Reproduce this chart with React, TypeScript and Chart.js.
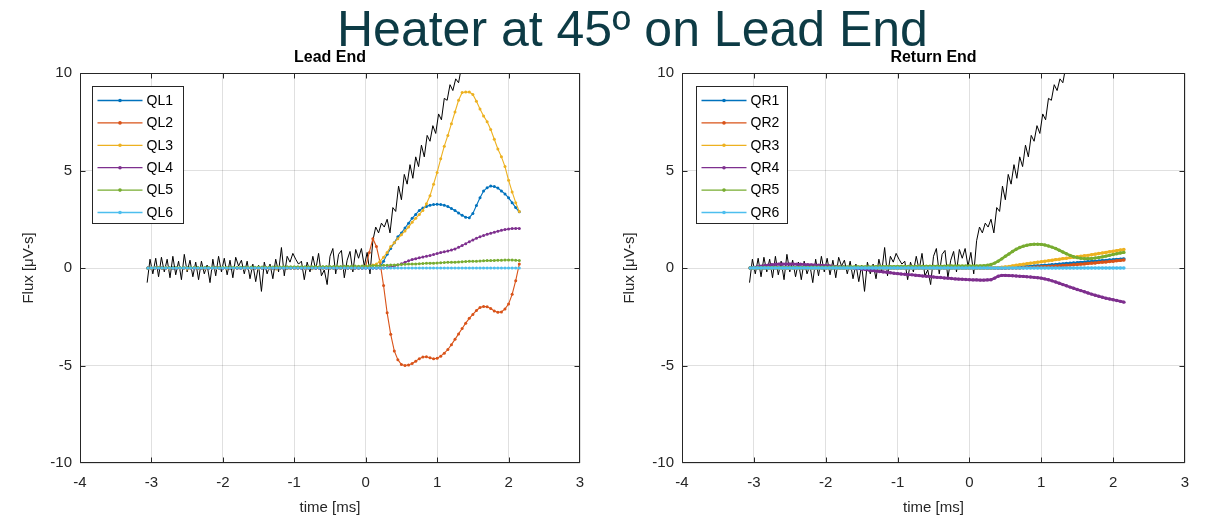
import React, { useEffect, useRef } from "react";
import { Chart, registerables } from "chart.js";

Chart.register(...registerables);

// ---------- data ----------
const TIME = [
  -3.05, -3.0, -2.95, -2.9, -2.85, -2.8, -2.75, -2.7, -2.65, -2.6,
  -2.55, -2.5, -2.45, -2.4, -2.35, -2.3, -2.25, -2.2, -2.15, -2.1,
  -2.05, -2.0, -1.95, -1.9, -1.85, -1.8, -1.75, -1.7, -1.65, -1.6,
  -1.55, -1.5, -1.45, -1.4, -1.35, -1.3, -1.25, -1.2, -1.15, -1.1,
  -1.05, -1.0, -0.95, -0.9, -0.85, -0.8, -0.75, -0.7, -0.65, -0.6,
  -0.55, -0.5, -0.45, -0.4, -0.35, -0.3, -0.25, -0.2, -0.15, -0.1,
  -0.05, 0.0, 0.05, 0.1, 0.15, 0.2, 0.25, 0.3, 0.35, 0.4,
  0.45, 0.5, 0.55, 0.6, 0.65, 0.7, 0.75, 0.8, 0.85, 0.9,
  0.95, 1.0, 1.05, 1.1, 1.15, 1.2, 1.25, 1.3, 1.35, 1.4,
  1.45, 1.5, 1.55, 1.6, 1.65, 1.7, 1.75, 1.8, 1.85, 1.9,
  1.95, 2.0, 2.05, 2.1, 2.15,
];

const HEATER_TIME = [
  -3.06, -3.02, -2.98, -2.94, -2.9, -2.86, -2.82, -2.78, -2.74, -2.7,
  -2.66, -2.62, -2.58, -2.54, -2.5, -2.46, -2.42, -2.38, -2.34, -2.3,
  -2.26, -2.22, -2.18, -2.14, -2.1, -2.06, -2.02, -1.98, -1.94, -1.9,
  -1.86, -1.82, -1.78, -1.74, -1.7, -1.66, -1.62, -1.58, -1.54, -1.5,
  -1.46, -1.42, -1.38, -1.34, -1.3, -1.26, -1.22, -1.18, -1.14, -1.1,
  -1.06, -1.02, -0.98, -0.94, -0.9, -0.86, -0.82, -0.78, -0.74, -0.7,
  -0.66, -0.62, -0.58, -0.54, -0.5, -0.46, -0.42, -0.38, -0.34, -0.3,
  -0.26, -0.22, -0.18, -0.14, -0.1, -0.06, -0.02, 0.02, 0.06, 0.1,
  0.14, 0.18, 0.22, 0.26, 0.3, 0.34, 0.38, 0.42, 0.46, 0.5,
  0.54, 0.58, 0.62, 0.66, 0.7, 0.74, 0.78, 0.82, 0.86, 0.9,
  0.94, 0.98, 1.02, 1.06, 1.1, 1.14, 1.18, 1.22, 1.26, 1.3,
  1.34, 1.38, 1.42,
];

const HEATER = [
  -0.75, 0.45, -0.3, 0.5, -0.45, 0.55, -0.2, 0.45, -0.5, 0.6,
  -0.35, 0.35, -0.6, 0.7, -0.2, 0.4, -0.45, 0.3, -0.6, 0.35,
  -0.3, 0.15, -0.75, 0.45, -0.4, 0.6, -0.2, 0.5, -0.35, 0.4,
  -0.5, 0.55, 0.1, 0.4, -0.3, 0.35, -0.55, 0.2, -0.7, 0.15,
  -1.2, 0.3, -0.3, 0.2, -0.55, 0.45, -0.2, 1.05, -0.4, 0.6,
  0.3, 0.75, 0.45, 0.2, 0.35, -0.6, 0.3, -0.2, 0.6, -0.1,
  0.75, -0.4, -0.1, -0.85, 0.6, 1.0, -0.3, 0.7, 0.9, -0.5,
  0.4, 0.85, -0.2, 0.95, 0.5, 1.0, 0.1, 0.8, -0.3, 1.4,
  2.1, 1.8, 2.3, 2.1, 2.5, 1.8, 3.1, 2.9, 4.2, 3.5,
  4.8, 4.3, 5.3, 4.6, 5.7, 5.2, 6.3, 5.7, 6.8, 6.5,
  7.3, 6.9, 7.9, 7.6, 8.7, 8.6, 9.4, 9.1, 9.7, 9.5,
  10.3, 10.8, 11.5,
];

const QL1 = [
  0, 0, 0, 0, 0, 0, 0, 0, 0, 0,
  0, 0, 0, 0, 0, 0, 0, 0, 0, 0,
  0, 0, 0, 0, 0, 0, 0, 0, 0, 0,
  0, 0, 0, 0, 0, 0, 0, 0, 0, 0,
  0, 0, 0, 0, 0, 0, 0, 0, 0, 0,
  0, 0, 0, 0, 0, 0, 0, 0, 0, 0,
  0, 0, 0, 0, 0, 0.05, 0.35, 0.7, 1.0, 1.3,
  1.6, 1.8, 2.05, 2.3, 2.55, 2.75, 2.95, 3.08, 3.16, 3.22,
  3.26, 3.27, 3.26, 3.22, 3.15, 3.05, 2.95, 2.82, 2.7, 2.6,
  2.58, 2.8, 3.2, 3.6, 3.95, 4.12, 4.2, 4.18, 4.1, 3.95,
  3.8, 3.6, 3.35, 3.1, 2.88,
];
const QL2 = [
  0, 0, 0, 0, 0, 0, 0, 0, 0, 0,
  0, 0, 0, 0, 0, 0, 0, 0, 0, 0,
  0, 0, 0, 0, 0, 0, 0, 0, 0, 0,
  0, 0, 0, 0, 0, 0, 0, 0, 0, 0,
  0, 0, 0, 0, 0, 0, 0, 0, 0, 0,
  0, 0, 0, 0, 0, 0, 0, 0, 0, 0,
  0, 0.1, 0.8, 1.5, 1.1, 0.3, -0.9, -2.3, -3.4, -4.25,
  -4.7, -4.95, -5.0, -4.97, -4.9, -4.78, -4.65, -4.56, -4.55, -4.6,
  -4.66, -4.63, -4.52, -4.37, -4.18, -3.93, -3.66, -3.38, -3.1, -2.83,
  -2.58, -2.38, -2.18, -2.03, -1.97, -1.99, -2.08, -2.2, -2.27, -2.25,
  -2.1, -1.85, -1.35, -0.65, 0.2,
];
const QL3 = [
  0, -0.02, 0, 0.02, -0.03, 0, -0.04, 0, 0.02, -0.03,
  0, -0.05, 0, 0.02, -0.02, 0, -0.04, 0.01, 0, -0.03,
  0, 0.02, -0.04, 0, -0.02, 0, 0.02, -0.03, 0, -0.02,
  0, -0.04, 0, 0.02, -0.02, 0, -0.05, 0, 0.01, -0.02,
  0, -0.03, 0, 0.02, -0.02, 0, -0.04, 0, 0.02, -0.02,
  0, -0.03, 0, 0.01, -0.02, 0, 0.02, -0.02, 0, 0.01,
  0.02, 0.05, 0.1, 0.15, 0.2, 0.35, 0.55, 0.8, 1.1, 1.3,
  1.5, 1.7, 1.9, 2.1, 2.35, 2.55, 2.75, 2.95, 3.3, 3.7,
  4.3, 4.9, 5.6, 6.25, 6.8, 7.4, 8.0, 8.6, 9.0, 9.02,
  9.02, 8.9, 8.55, 8.15, 7.8, 7.5, 7.1, 6.6, 6.1, 5.7,
  5.2, 4.5, 3.9, 3.35, 2.9,
];
const QL4 = [
  0, 0, 0, 0, 0, 0, 0, 0, 0, 0,
  0, 0, 0, 0, 0, 0, 0, 0, 0, 0,
  0, 0, 0, 0, 0, 0, 0, 0, 0, 0,
  0, 0, 0, 0, 0, 0, 0, 0, 0, 0,
  0, 0, 0, 0, 0, 0, 0, 0, 0, 0,
  0, 0, 0, 0, 0, 0, 0, 0, 0, 0,
  0, 0, 0, 0, 0, 0, 0, 0.03, 0.06, 0.1,
  0.15, 0.22, 0.3, 0.37, 0.43, 0.48, 0.52, 0.56, 0.6, 0.64,
  0.69, 0.74, 0.79, 0.83, 0.87, 0.92, 0.98, 1.06, 1.15, 1.25,
  1.35, 1.44, 1.52, 1.6, 1.67, 1.73, 1.78, 1.83, 1.88, 1.93,
  1.97, 2.0, 2.02, 2.03, 2.03,
];
const QL5 = [
  0, 0.01, 0.01, 0.02, 0.01, 0.02, 0.02, 0.01, 0.02, 0.02,
  0.02, 0.02, 0.03, 0.02, 0.03, 0.02, 0.03, 0.03, 0.02, 0.03,
  0.03, 0.03, 0.04, 0.03, 0.04, 0.03, 0.04, 0.04, 0.04, 0.05,
  0.04, 0.05, 0.05, 0.04, 0.05, 0.05, 0.06, 0.05, 0.06, 0.06,
  0.06, 0.06, 0.07, 0.06, 0.07, 0.07, 0.07, 0.08, 0.07, 0.08,
  0.08, 0.08, 0.08, 0.09, 0.08, 0.09, 0.09, 0.09, 0.1, 0.09,
  0.1, 0.1, 0.11, 0.12, 0.12, 0.13, 0.14, 0.14, 0.15, 0.16,
  0.17, 0.18, 0.19, 0.2, 0.2, 0.21, 0.22, 0.23, 0.24, 0.25,
  0.25, 0.26, 0.27, 0.28, 0.29, 0.29, 0.3, 0.31, 0.32, 0.33,
  0.34, 0.35, 0.35, 0.36, 0.37, 0.38, 0.38, 0.39, 0.4, 0.4,
  0.41, 0.41, 0.41, 0.4, 0.38,
];
const QL6 = [
  0, 0, 0, 0, 0, 0, 0, 0, 0, 0,
  0, 0, 0, 0, 0, 0, 0, 0, 0, 0,
  0, 0, 0, 0, 0, 0, 0, 0, 0, 0,
  0, 0, 0, 0, 0, 0, 0, 0, 0, 0,
  0, 0, 0, 0, 0, 0, 0, 0, 0, 0,
  0, 0, 0, 0, 0, 0, 0, 0, 0, 0,
  0, 0, 0, 0, 0, 0, 0, 0, 0, 0,
  0, 0, 0, 0, 0, 0, 0, 0, 0, 0,
  0, 0, 0, 0, 0, 0, 0, 0, 0, 0,
  0, 0, 0, 0, 0, 0, 0, 0, 0, 0,
  0, 0, 0, 0, 0,
];

const QR1 = [
  0, 0, 0, 0, 0, 0, 0, 0, 0, 0,
  0, 0, 0, 0, 0, 0, 0, 0, 0, 0,
  0, 0, 0, 0, 0, 0, 0, 0, 0, 0,
  0, 0, 0, 0, 0, 0, 0, 0, 0, 0,
  0, 0, 0, 0, 0, 0, 0, 0, 0, 0,
  0, 0, 0, 0, 0, 0, 0, 0, 0, 0,
  0, 0, 0, 0, 0, 0, 0, 0, 0, 0,
  0, 0, 0.01, 0.02, 0.03, 0.05, 0.06, 0.07, 0.08, 0.1,
  0.11, 0.12, 0.14, 0.15, 0.17, 0.18, 0.2, 0.21, 0.23, 0.24,
  0.26, 0.27, 0.29, 0.3, 0.32, 0.33, 0.35, 0.36, 0.38, 0.39,
  0.41, 0.42, 0.44, 0.45, 0.47,
];
const QR2 = [
  0, 0, 0, 0, 0, 0, 0, 0, 0, 0,
  0, 0, 0, 0, 0, 0, 0, 0, 0, 0,
  0, 0, 0, 0, 0, 0, 0, 0, 0, 0,
  0, 0, 0, 0, 0, 0, 0, 0, 0, 0,
  0, 0, 0, 0, 0, 0, 0, 0, 0, 0,
  0, 0, 0, 0, 0, 0, 0, 0, 0, 0,
  0, 0, 0, 0, 0, 0, 0, 0, 0, 0,
  0, 0, 0, 0, 0, 0, 0.01, 0.02, 0.03, 0.04,
  0.05, 0.06, 0.07, 0.08, 0.09, 0.1, 0.11, 0.13, 0.14, 0.15,
  0.17, 0.18, 0.2, 0.21, 0.23, 0.25, 0.26, 0.28, 0.3, 0.31,
  0.33, 0.35, 0.37, 0.39, 0.41,
];
const QR3 = [
  0, 0, 0, 0, 0, 0, 0, 0, 0, 0,
  0, 0, 0, 0, 0, 0, 0, 0, 0, 0,
  0, 0, 0, 0, 0, 0, 0, 0, 0, 0,
  0, 0, 0, 0, 0, 0, 0, 0, 0, 0,
  0, 0, 0, 0, 0, 0, 0, 0, 0, 0,
  0, 0, 0, 0, 0, 0, 0, 0, 0, 0,
  0, 0, 0, 0, 0, 0, 0, 0, 0.01, 0.02,
  0.04, 0.06, 0.08, 0.11, 0.14, 0.17, 0.19, 0.22, 0.25, 0.27,
  0.3, 0.32, 0.35, 0.37, 0.4, 0.43, 0.45, 0.48, 0.5, 0.53,
  0.55, 0.58, 0.6, 0.63, 0.65, 0.68, 0.71, 0.74, 0.77, 0.8,
  0.83, 0.86, 0.89, 0.92, 0.95,
];
const QR4 = [
  0, 0.03, 0.06, 0.09, 0.12, 0.15, 0.17, 0.19, 0.2, 0.2,
  0.2, 0.2, 0.2, 0.19, 0.19, 0.18, 0.17, 0.16, 0.15, 0.14,
  0.13, 0.12, 0.11, 0.09, 0.08, 0.06, 0.05, 0.03, 0.02, 0.0,
  -0.03, -0.05, -0.08, -0.1, -0.13, -0.15, -0.18, -0.2, -0.22, -0.24,
  -0.27, -0.29, -0.31, -0.32, -0.34, -0.35, -0.37, -0.39, -0.41, -0.42,
  -0.44, -0.46, -0.48, -0.49, -0.51, -0.52, -0.54, -0.56, -0.57, -0.58,
  -0.59, -0.6, -0.61, -0.61, -0.62, -0.62, -0.61, -0.6, -0.52, -0.42,
  -0.38, -0.38, -0.39, -0.4, -0.41, -0.42, -0.43, -0.45, -0.46, -0.48,
  -0.5, -0.52, -0.56, -0.6, -0.66, -0.72, -0.78, -0.85, -0.91, -0.98,
  -1.04, -1.1, -1.16, -1.22, -1.28, -1.34, -1.4, -1.45, -1.5, -1.55,
  -1.59, -1.63, -1.67, -1.71, -1.75,
];
const QR5 = [
  0, 0, 0.01, 0.01, 0.01, 0.01, 0.02, 0.02, 0.02, 0.02,
  0.02, 0.03, 0.03, 0.03, 0.03, 0.03, 0.03, 0.04, 0.04, 0.04,
  0.04, 0.04, 0.04, 0.05, 0.05, 0.05, 0.05, 0.05, 0.05, 0.06,
  0.06, 0.06, 0.06, 0.06, 0.06, 0.07, 0.07, 0.07, 0.07, 0.07,
  0.07, 0.08, 0.08, 0.08, 0.08, 0.08, 0.08, 0.08, 0.09, 0.09,
  0.09, 0.09, 0.09, 0.09, 0.09, 0.1, 0.1, 0.1, 0.1, 0.1,
  0.1, 0.1, 0.1, 0.1, 0.11, 0.12, 0.14, 0.18, 0.25, 0.35,
  0.47, 0.6, 0.72, 0.85, 0.96, 1.05, 1.12, 1.17, 1.2, 1.22,
  1.22, 1.21, 1.18, 1.13, 1.07, 1.0, 0.91, 0.82, 0.73, 0.65,
  0.58, 0.53, 0.5, 0.48, 0.48, 0.49, 0.51, 0.54, 0.57, 0.61,
  0.65, 0.69, 0.73, 0.77, 0.8,
];
const QR6 = QL6.slice();

const LEAD_NAMES = ["QL1", "QL2", "QL3", "QL4", "QL5", "QL6"];
const RETURN_NAMES = ["QR1", "QR2", "QR3", "QR4", "QR5", "QR6"];
const LEAD_SERIES = [QL1, QL2, QL3, QL4, QL5, QL6];
const RETURN_SERIES = [QR1, QR2, QR3, QR4, QR5, QR6];
const COLORS = ["#0072BD", "#D95319", "#EDB120", "#7E2F8E", "#77AC30", "#4DBEEE"];
const X_TICKS = [-4, -3, -2, -1, 0, 1, 2, 3];
const Y_TICKS = [-10, -5, 0, 5, 10];

const FONT = "'Liberation Sans', Arial, Helvetica, sans-serif";
const AXIS_COLOR = "#262626";

// ---------- plugins ----------
const matlabAxes = {
  id: "matlabAxes",
  afterDatasetsDraw(chart: any) {
    const { ctx, chartArea: a, scales } = chart;
    const L = Math.round(a.left) + 0.5;
    const R = Math.round(a.right) - 0.5;
    const T = Math.round(a.top) + 0.5;
    const B = Math.round(a.bottom) - 0.5;
    const clampX = (v: number) => Math.min(R, Math.max(L, v));
    const clampY = (v: number) => Math.min(B, Math.max(T, v));
    ctx.save();
    ctx.strokeStyle = AXIS_COLOR;
    ctx.lineWidth = 1;
    ctx.beginPath();
    ctx.rect(L, T, R - L, B - T);
    const tl = 5;
    X_TICKS.forEach((v) => {
      const px = clampX(Math.round(scales.x.getPixelForValue(v)) + 0.5);
      ctx.moveTo(px, B);
      ctx.lineTo(px, B - tl);
      ctx.moveTo(px, T);
      ctx.lineTo(px, T + tl);
    });
    Y_TICKS.forEach((v) => {
      const py = clampY(Math.round(scales.y.getPixelForValue(v)) + 0.5);
      ctx.moveTo(L, py);
      ctx.lineTo(L + tl, py);
      ctx.moveTo(R, py);
      ctx.lineTo(R - tl, py);
    });
    ctx.stroke();
    ctx.restore();
  },
  afterDraw(chart: any, _args: any, opts: any) {
    const { ctx, chartArea: a } = chart;
    const items = chart.data.datasets.filter((d: any) => d.inLegend);
    const x0 = Math.round(a.left + opts.offsetX) + 0.5;
    const y0 = Math.round(a.top + 13) + 0.5;
    const w = 91;
    const h = 137;
    ctx.save();
    ctx.fillStyle = "#ffffff";
    ctx.fillRect(x0, y0, w, h);
    ctx.strokeStyle = AXIS_COLOR;
    ctx.lineWidth = 1;
    ctx.strokeRect(x0, y0, w, h);
    items.forEach((d: any, i: number) => {
      const y = y0 + 14 + i * 22.4;
      ctx.strokeStyle = d.borderColor;
      ctx.lineWidth = 1.3;
      ctx.beginPath();
      ctx.moveTo(x0 + 5, y);
      ctx.lineTo(x0 + 50, y);
      ctx.stroke();
      ctx.fillStyle = d.borderColor;
      ctx.beginPath();
      ctx.arc(x0 + 27.5, y, 1.8, 0, Math.PI * 2);
      ctx.fill();
      ctx.fillStyle = "#000000";
      ctx.font = `14px ${FONT}`;
      ctx.textBaseline = "middle";
      ctx.textAlign = "left";
      ctx.fillText(d.label, x0 + 54, y + 0.5);
    });
    ctx.restore();
  },
};

function buildConfig(
  title: string,
  names: string[],
  series: number[][],
  lineWidth: number,
  pointRadius: number,
  yAxisWidth: number,
  yTitlePad: number,
  legendOffsetX: number
): any {
  const datasets: any[] = series.map((vals, i) => ({
    label: names[i],
    inLegend: true,
    data: TIME.map((t, k) => ({ x: t, y: vals[k] })),
    borderColor: COLORS[i],
    backgroundColor: COLORS[i],
    borderWidth: lineWidth,
    pointRadius: pointRadius,
    pointBorderWidth: 0,
    pointBackgroundColor: COLORS[i],
    tension: 0,
    order: 10 - i,
  }));
  datasets.push({
    label: "heater",
    inLegend: false,
    data: HEATER_TIME.map((t, k) => ({ x: t, y: HEATER[k] })),
    borderColor: "#000000",
    borderWidth: 1,
    pointRadius: 0,
    tension: 0,
    order: 100,
  });

  return {
    type: "line",
    data: { datasets },
    plugins: [matlabAxes],
    options: {
      animation: false,
      responsive: false,
      devicePixelRatio: 1,
      events: [],
      layout: { padding: { left: 0, right: 20, top: 0, bottom: 0 } },
      plugins: {
        legend: { display: false },
        tooltip: { enabled: false },
        title: {
          display: true,
          text: title,
          color: "#000000",
          fullSize: false,
          font: { family: FONT, size: 16, weight: "bold" },
          padding: { top: 47.5, bottom: 6.3 },
        },
        matlabAxes: { offsetX: legendOffsetX },
      },
      scales: {
        x: {
          type: "linear",
          min: -4,
          max: 3,
          afterBuildTicks: (s: any) => {
            s.ticks = X_TICKS.map((v) => ({ value: v }));
          },
          afterFit: (s: any) => {
            s.height = 57;
          },
          ticks: {
            color: AXIS_COLOR,
            font: { family: FONT, size: 15 },
            padding: 11,
            maxRotation: 0,
            autoSkip: false,
          },
          grid: { color: "rgba(0,0,0,0.12)", drawTicks: false, lineWidth: 1 },
          border: { display: false },
          title: {
            display: true,
            text: "time [ms]",
            color: AXIS_COLOR,
            font: { family: FONT, size: 15 },
            padding: { top: 0, bottom: 3 },
          },
        },
        y: {
          type: "linear",
          min: -10,
          max: 10,
          afterBuildTicks: (s: any) => {
            s.ticks = Y_TICKS.map((v) => ({ value: v }));
          },
          afterFit: (s: any) => {
            s.width = yAxisWidth;
          },
          ticks: {
            color: AXIS_COLOR,
            font: { family: FONT, size: 15 },
            padding: 8,
            autoSkip: false,
          },
          grid: { color: "rgba(0,0,0,0.12)", drawTicks: false, lineWidth: 1 },
          border: { display: false },
          title: {
            display: true,
            text: "Flux [μV-s]",
            color: AXIS_COLOR,
            font: { family: FONT, size: 15 },
            padding: { top: yTitlePad, bottom: 0 },
          },
        },
      },
    },
  };
}

function Panel(props: {
  left: number;
  title: string;
  names: string[];
  series: number[][];
  lineWidth: number;
  pointRadius: number;
  yAxisWidth: number;
  yTitlePad: number;
  legendOffsetX: number;
}) {
  const ref = useRef<HTMLCanvasElement | null>(null);
  useEffect(() => {
    if (!ref.current) return;
    const chart = new Chart(
      ref.current,
      buildConfig(
        props.title,
        props.names,
        props.series,
        props.lineWidth,
        props.pointRadius,
        props.yAxisWidth,
        props.yTitlePad,
        props.legendOffsetX
      )
    );
    return () => chart.destroy();
  }, []);
  return (
    <canvas
      ref={ref}
      width={600}
      height={520}
      style={{ position: "absolute", left: props.left, top: 0, width: 600, height: 520 }}
    />
  );
}

export default function App() {
  return (
    <div
      style={{
        position: "absolute",
        left: 0,
        top: 0,
        width: 1211,
        height: 520,
        background: "#ffffff",
        overflow: "hidden",
      }}
    >
      <Panel
        left={0}
        title="Lead End"
        names={LEAD_NAMES}
        series={LEAD_SERIES}
        lineWidth={1.1}
        pointRadius={1.5}
        yAxisWidth={80}
        yTitlePad={20}
        legendOffsetX={12}
      />
      <Panel
        left={605}
        title="Return End"
        names={RETURN_NAMES}
        series={RETURN_SERIES}
        lineWidth={2.6}
        pointRadius={1.7}
        yAxisWidth={77}
        yTitlePad={16}
        legendOffsetX={14}
      />
      <div
        style={{
          position: "absolute",
          left: 337,
          top: 4,
          fontFamily: FONT,
          fontSize: 50,
          lineHeight: "50px",
          color: "#0d3b45",
          whiteSpace: "nowrap",
        }}
      >
        Heater at 45º on Lead End
      </div>
    </div>
  );
}
